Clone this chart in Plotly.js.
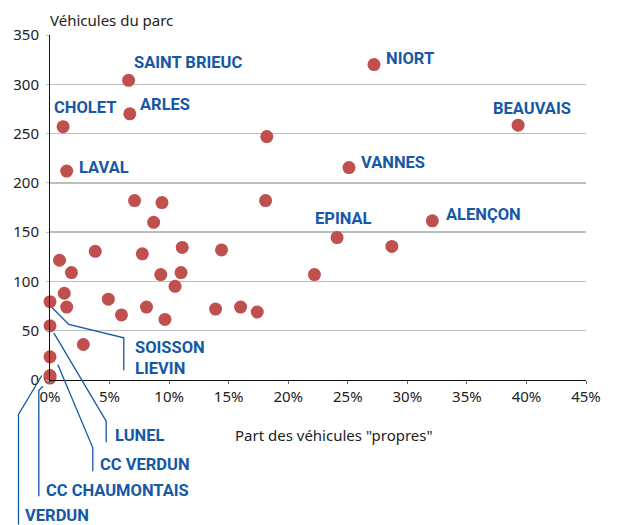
<!DOCTYPE html>
<html>
<head>
<meta charset="utf-8">
<script src="https://cdn.plot.ly/plotly-3.0.1.min.js"></script>
<style>html,body{margin:0;padding:0;background:#fff;}#chart{width:623px;height:525px;}</style>
</head>
<body>
<div id="chart"></div>
<script>
// Part des véhicules "propres" (%)
const partPropres = [6.6, 6.7, 1.1, 1.4, 18.2, 7.1, 9.4, 18.1, 8.7, 3.8,
  7.75, 11.1, 14.4, 0.8, 1.8, 9.3, 11.0, 22.2, 10.5, 1.2,
  0, 1.4, 4.9, 6.0, 8.1, 9.65, 13.9, 16.0, 17.4, 0,
  2.8, 0, 0, 0, 27.2, 39.3, 25.1, 32.1, 24.1, 28.7];
// Véhicules du parc
const vehicules = [304, 270, 257, 212, 247, 182, 180, 182, 160, 130.5,
  128, 134.5, 132, 121.5, 109, 107, 109, 107, 95, 88,
  79.5, 74, 82, 66, 74, 61.5, 72, 74, 69, 55,
  36, 23.5, 4.5, 2, 320, 258.5, 215.5, 161.5, 144.5, 135.5];
const villes = ['SAINT BRIEUC', 'ARLES', 'CHOLET', 'LAVAL', '', '', '', '', '', '',
  '', '', '', '', '', '', '', '', '', '',
  'SOISSON', '', '', '', '', '', '', '', '', 'LIEVIN',
  '', 'LUNEL', 'CC VERDUN', 'VERDUN', 'NIORT', 'BEAUVAIS', 'VANNES', 'ALENÇON', 'EPINAL', ''];
const xTicks = [0, 5, 10, 15, 20, 25, 30, 35, 40, 45];
const yTicks = [0, 50, 100, 150, 200, 250, 300, 350];

const BLUE = '#1558a6';
const labelFont = {family: 'Roboto, "DejaVu Sans Condensed", sans-serif', size: 16.5, color: BLUE, weight: 700};
const textFont = {family: '"Noto Sans", sans-serif', size: 15, color: '#222'};

// label offsets (pixels) next to their point
const labelPos = {
  'SAINT BRIEUC': {dx: 3, dy: 18, a: 'left'},
  'ARLES': {dx: 8, dy: 9, a: 'left'},
  'CHOLET': {dx: -11, dy: 19, a: 'left'},
  'LAVAL': {dx: 10.5, dy: 4, a: 'left'},
  'NIORT': {dx: 10, dy: 6, a: 'left'},
  'BEAUVAIS': {dx: 14, dy: 17, a: 'center'},
  'VANNES': {dx: 10.5, dy: 5, a: 'left'},
  'ALENÇON': {dx: 12, dy: 6.5, a: 'left'},
  'EPINAL': {dx: 6.5, dy: 19, a: 'center'}
};
// labels placed below/right of the origin, joined with leader lines
const leaderLabels = [
  {t: 'SOISSON', dx: 83.5, dy: 32.5},
  {t: 'LIEVIN', dx: 83.5, dy: 11.5},
  {t: 'LUNEL', dx: 63.5, dy: -55.5},
  {t: 'CC VERDUN', dx: 48.5, dy: -84.5},
  {t: 'CC CHAUMONTAIS', dx: -5.5, dy: -110.5},
  {t: 'VERDUN', dx: -26.5, dy: -135.5}
];
const leaderPaths = [
  'M2.2,72.2 L18.8,55.5 L73.8,42.2 L73.8,9.8',
  'M3.8,47.2 L56.2,-41.2 L56.2,-62.2',
  'M7.8,15.5 L42.8,-67.8 L42.8,-91.2',
  'M-8.2,4.5 L-31.5,-34.5 L-31.5,-144.5',
  'M-7.2,-6.2 L-11.2,-10.5 L-11.2,-116.2'
];

const annotations = [];
villes.forEach((v, i) => {
  if (labelPos[v]) {
    const p = labelPos[v];
    annotations.push({x: partPropres[i], y: vehicules[i], xref: 'x', yref: 'y', text: v,
      showarrow: false, xanchor: p.a, yanchor: 'middle', xshift: p.dx, yshift: p.dy, font: labelFont});
  }
});
leaderLabels.forEach(l => {
  annotations.push({x: 0, y: 0, xref: 'x', yref: 'y', text: l.t, showarrow: false,
    xanchor: 'left', yanchor: 'middle', xshift: l.dx, yshift: l.dy, font: labelFont, borderpad: 0});
});
annotations.push({x: 0, y: 1, xref: 'paper', yref: 'paper', text: 'Véhicules du parc', showarrow: false,
  xanchor: 'left', yanchor: 'middle', xshift: -2, yshift: 15, font: textFont});
annotations.push({x: 0.529, y: 0, xref: 'paper', yref: 'paper', text: 'Part des véhicules "propres"', showarrow: false,
  xanchor: 'center', yanchor: 'middle', yshift: -55, font: textFont});

const shapes = leaderPaths.map(p => ({type: 'path', xref: 'paper', yref: 'paper',
  xsizemode: 'pixel', ysizemode: 'pixel', xanchor: 0, yanchor: 0, path: p,
  line: {color: BLUE, width: 1.3}, layer: 'above'}));

const trace = {
  type: 'scatter', mode: 'markers', x: partPropres, y: vehicules, text: villes,
  marker: {size: 13, color: '#c0504d', line: {width: 0}},
  cliponaxis: false, hoverinfo: 'x+y+text'
};

const layout = {
  width: 623, height: 525,
  margin: {l: 50, r: 37, t: 35, b: 145, pad: 0},
  paper_bgcolor: '#fff', plot_bgcolor: '#fff',
  showlegend: false,
  font: textFont,
  xaxis: {range: [0, 45], tickvals: xTicks, ticktext: xTicks.map(v => v + '%'),
    showgrid: false, zeroline: false, showline: true, linecolor: '#111', linewidth: 1,
    ticks: 'outside', ticklen: 3, tickcolor: '#666', tickfont: textFont, fixedrange: true},
  yaxis: {range: [0, 350], tickvals: yTicks, ticktext: yTicks.map(String),
    showgrid: true, gridcolor: '#bdbdbd', gridwidth: 1.5, zeroline: false,
    showline: true, linecolor: '#111', linewidth: 1,
    ticks: 'outside', ticklen: 3, tickcolor: '#bdbdbd', tickfont: textFont, ticklabelstandoff: 4, fixedrange: true},
  annotations: annotations,
  shapes: shapes
};

Plotly.newPlot('chart', [trace], layout, {displayModeBar: false, staticPlot: true});
</script>
</body>
</html>
